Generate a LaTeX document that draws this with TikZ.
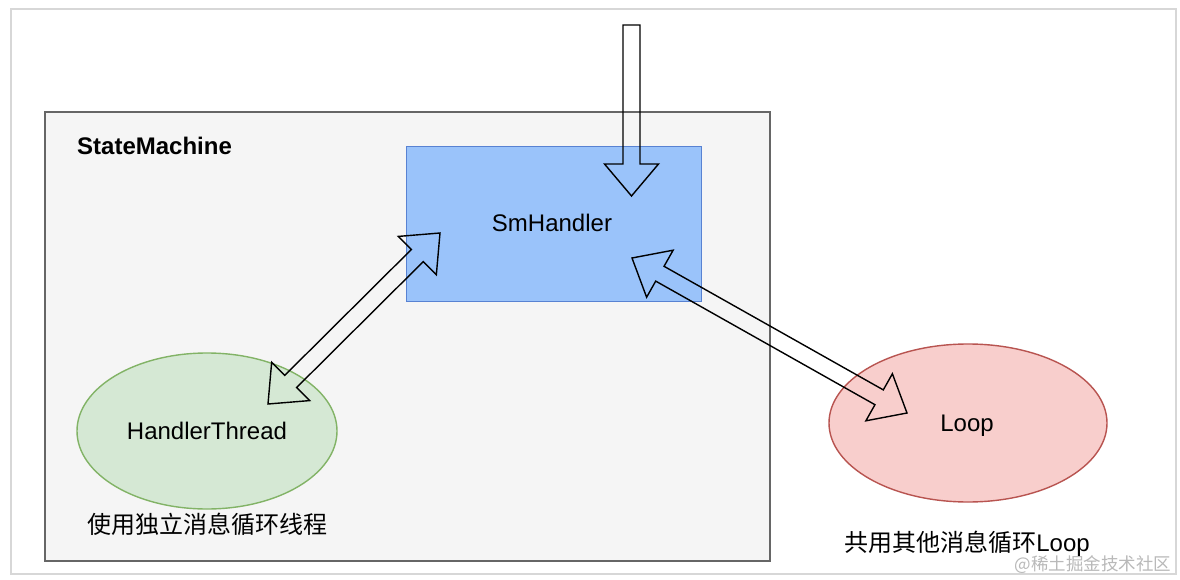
\documentclass[tikz,border=0pt]{standalone}
\usepackage{fontspec}
\setmainfont{Liberation Sans}
\newfontfamily\cjk{Noto Sans CJK SC}
\usetikzlibrary{calc,shapes.geometric}
\definecolor{smfill}{HTML}{F5F5F5}
\definecolor{smline}{HTML}{666666}
\definecolor{hfill}{RGB}{154,195,250}
\definecolor{hline}{RGB}{88,130,210}
\definecolor{gfill}{HTML}{D5E8D4}
\definecolor{gline}{HTML}{82B366}
\definecolor{rfill}{HTML}{F8CECC}
\definecolor{rline}{HTML}{B85450}
\definecolor{frameline}{RGB}{215,215,215}
\definecolor{wmark}{RGB}{185,185,185}
\newcommand{\bigfont}{\fontsize{24}{28}\selectfont}
\newcommand{\dblflex}[2]{%
  \path ($(#1)!32pt!(#2)$) coordinate (hA)
        ($(#2)!32pt!(#1)$) coordinate (hB);
  \draw[flexline]
    (#1) -- ($(hA)!27pt!90:(#2)$) -- ($(hA)!8.5pt!90:(#2)$)
    -- ($(hB)!8.5pt!-90:(#1)$) -- ($(hB)!27pt!-90:(#1)$) -- (#2)
    -- ($(hB)!27pt!90:(#1)$) -- ($(hB)!8.5pt!90:(#1)$)
    -- ($(hA)!8.5pt!-90:(#2)$) -- ($(hA)!27pt!-90:(#2)$) -- cycle;}
\tikzset{
  flexline/.style={draw=black, line width=1.4pt, line join=miter},
  lbl/.style={font=\bigfont, inner sep=0pt},
}
\begin{document}
\begin{tikzpicture}[x=1pt,y=-1pt]
\useasboundingbox (0,0) rectangle (1180,580);
\fill[white] (0,0) rectangle (1180,580);
\draw[frameline, line width=1.5pt] (11,9) rectangle (1176,574);
% StateMachine container
\node[draw=smline, fill=smfill, line width=1.6pt, minimum width=725pt, minimum height=449pt, anchor=north west, inner sep=0pt] (sm) at (44,111) {};
\node[lbl, font=\bigfont\bfseries, anchor=west] (smlabel) at (77,146) {StateMachine};
% SmHandler
\node[draw=hline, fill=hfill, line width=1.4pt, minimum width=295pt, minimum height=155pt, anchor=north west, inner sep=0pt] (smh) at (406,146) {};
\node[lbl] (smhtext) at (552,223) {SmHandler};
% HandlerThread
\node[ellipse, draw=gline, fill=gfill, line width=1.4pt, minimum width=260pt, minimum height=156pt, inner sep=0pt] (ht) at (207,431) {};
\node[lbl] (httext) at (207,431) {HandlerThread};
\node[lbl] (htcap) at (207,524) {\cjk 使用独立消息循环线程};
% Loop
\node[ellipse, draw=rline, fill=rfill, line width=1.4pt, minimum width=278pt, minimum height=158pt, inner sep=0pt] (loop) at (968,423) {};
\node[lbl] (looptext) at (967,425.5) {Loop};
\node[lbl] (loopcap) at (967,544) {{\cjk 共用其他消息循环}Loop};
% watermark
\node[inner sep=0pt, text=wmark, font=\fontsize{17.5}{20}\selectfont\cjk] (wm) at (1093,565) {@稀土掘金技术社区};
% top incoming arrow
\coordinate (ts) at (631.5,25);
\coordinate (tt) at (631.5,196);
\coordinate (tb) at (631.5,164);
\draw[flexline] (ts) ++(-8.5,0) -- ($(tb)+(-8.5,0)$) -- ($(tb)+(-27,0)$) -- (tt) -- ($(tb)+(27,0)$) -- ($(tb)+(8.5,0)$) -- ($(ts)+(8.5,0)$) -- cycle;
% double arrows
\coordinate (a1) at (268,404);
\coordinate (b1) at (440,233);
\dblflex{a1}{b1}
\coordinate (a2) at (632,258);
\coordinate (b2) at (907,413);
\dblflex{a2}{b2}
\end{tikzpicture}
\end{document}
